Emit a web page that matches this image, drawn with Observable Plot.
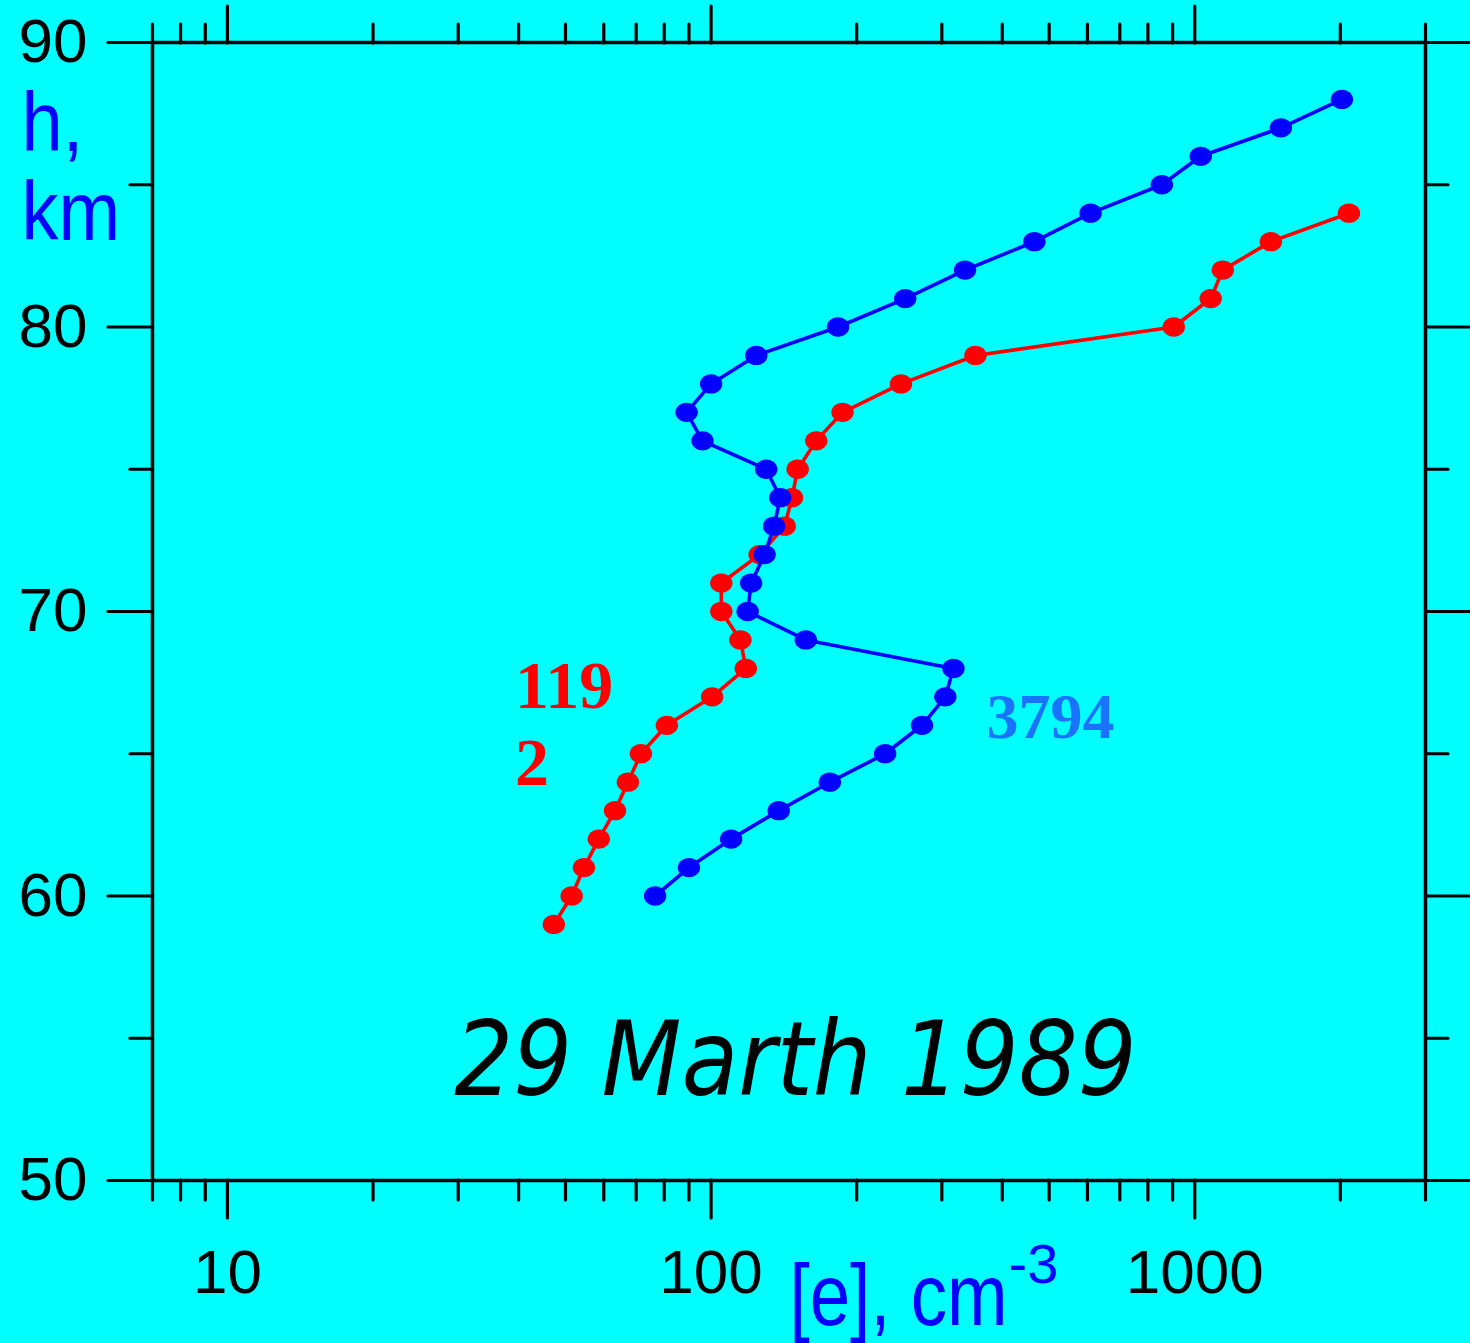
<!DOCTYPE html>
<html><head><meta charset="utf-8">
<script src="https://cdn.jsdelivr.net/npm/d3@7"></script>
<script src="https://cdn.jsdelivr.net/npm/@observablehq/plot@0.6"></script>
<style>
html,body{margin:0;padding:0;background:#00ffff;}
#chart svg{display:block;
  background:
    linear-gradient(to bottom, #ffffff 0, #ffffff 4px, #c8d8ff 4px, #c8d8ff 5px, transparent 5px),
    linear-gradient(to left, #8a8aff 0, #8a8aff 3px, #00ffff 3px);}
</style></head><body><div id="chart"></div>
<script>
// Series 1192 (red)
const heightsRed = [59,60,61,62,63,64,65,66,67,68,69,70,71,72,73,74,75,76,77,78,79,80,81,82,83,84];
const densityRed = [47.3,51.5,54.6,58.6,63.3,67.3,71.6,81,100.5,118,115,105,105,126,142,147,151,165,187,247,352,905,1079,1143,1437,2084];
// Series 3794 (blue)
const heightsBlue = [60,61,62,63,64,65,66,67,68,69,70,71,72,73,74,75,76,77,78,79,80,81,82,83,84,85,86,87,88];
const densityBlue = [76.6,90,110,138,176,229,273,305,317,157,119,121,129,135,139,130,96,89,100,124,183,252,335,466,609,855,1029,1507,2015];

const majorX = [10,100,1000];
const minorX = [7,8,9,20,30,40,50,60,70,80,90,200,300,400,500,600,700,800,900,2000,3000];
const majorY = [50,60,70,80,90];
const minorY = [55,65,75,85];

const seriesLabels = [
  {n: 39.3, h: 66.6, text: "119", color: "#ff0000", size: 68},
  {n: 39.3, h: 63.9, text: "2", color: "#ff0000", size: 68},
  {n: 371, h: 65.55, text: "3794", color: "#1a73ff", size: 64}
];

const red = heightsRed.map((h, i) => ({h, n: densityRed[i]}));
const blue = heightsBlue.map((h, i) => ({h, n: densityBlue[i]}));

const ellipse = {
  draw(ctx, size) {
    const r = Math.sqrt(size / Math.PI);
    const rx = r * 1.08, ry = r * 0.93, k = 0.5523;
    ctx.moveTo(rx, 0);
    ctx.bezierCurveTo(rx, ry * k, rx * k, ry, 0, ry);
    ctx.bezierCurveTo(-rx * k, ry, -rx, ry * k, -rx, 0);
    ctx.bezierCurveTo(-rx, -ry * k, -rx * k, -ry, 0, -ry);
    ctx.bezierCurveTo(rx * k, -ry, rx, -ry * k, rx, 0);
    ctx.closePath();
  }
};

const ax = {color: "black", strokeWidth: 3.2, strokeLinecap: "round", label: null};

const chart = Plot.plot({
  width: 1470,
  height: 1343,
  marginTop: 42,
  marginRight: 45,
  marginBottom: 163,
  marginLeft: 152,
  style: {background: "transparent", color: "black", fontFamily: "'Liberation Sans', Arial, sans-serif", overflow: "visible"},
  x: {type: "log", domain: [7, 3000]},
  y: {domain: [50, 90]},
  marks: [
    // axes
    Plot.axisX(majorX, {...ax, anchor: "bottom", tickSize: 38, tickPadding: 30, fontSize: 62, tickFormat: d => String(d)}),
    Plot.axisX(minorX, {...ax, anchor: "bottom", tickSize: 20, fill: "none"}),
    Plot.axisX(majorX, {...ax, anchor: "top", tickSize: 37, fill: "none"}),
    Plot.axisX(minorX, {...ax, anchor: "top", tickSize: 19, fill: "none"}),
    Plot.axisY(majorY, {...ax, anchor: "left", tickSize: 44, tickPadding: 21, fontSize: 62, tickFormat: d => String(d)}),
    Plot.axisY(minorY, {...ax, anchor: "left", tickSize: 22, fill: "none"}),
    Plot.axisY(majorY, {...ax, anchor: "right", tickSize: 43, fill: "none"}),
    Plot.axisY(minorY, {...ax, anchor: "right", tickSize: 22, fill: "none"}),
    Plot.frame({stroke: "black", strokeWidth: 3.5}),
    // data
    Plot.line(red, {x: "n", y: "h", stroke: "#ff0000", strokeWidth: 3.6}),
    Plot.dot(red, {x: "n", y: "h", fill: "#ff0000", r: 10.4, symbol: ellipse}),
    Plot.line(blue, {x: "n", y: "h", stroke: "#0000ff", strokeWidth: 3.6}),
    Plot.dot(blue, {x: "n", y: "h", fill: "#0000ff", r: 10.4, symbol: ellipse}),
    // series labels
    Plot.text(seriesLabels, {x: "n", y: "h", text: "text", fill: "color", fontSize: d => d.size, textAnchor: "start", lineAnchor: "bottom",
      fontFamily: "'Liberation Serif', 'Times New Roman', serif", fontWeight: "bold"}),
    // axis titles
    Plot.text(["h,"], {frameAnchor: "top-left", dx: -131, dy: 108, textAnchor: "start", lineAnchor: "bottom", fill: "#0000ff", fontSize: 74}),
    Plot.text(["km"], {frameAnchor: "top-left", dx: -131, dy: 197, textAnchor: "start", lineAnchor: "bottom", fill: "#0000ff", fontSize: 74}),
    Plot.text(["[e], cm"], {frameAnchor: "top-left", dx: 637, dy: 1282, textAnchor: "start", lineAnchor: "bottom", fill: "#0000ff", fontSize: 72.7}),
    Plot.text(["-3"], {frameAnchor: "top-left", dx: 856, dy: 1240, textAnchor: "start", lineAnchor: "bottom", fill: "#0000ff", fontSize: 56}),
    // date
    Plot.text(["29 Marth 1989"], {frameAnchor: "top-left", dx: 643, dy: 1052, textAnchor: "middle", lineAnchor: "bottom", fill: "black", fontSize: 103,
      fontStyle: "italic", fontFamily: "'DejaVu Sans Condensed', 'DejaVu Sans', sans-serif", fontStretch: "condensed"})
  ]
});
// the original titles use a tall, narrow face: stretch these texts vertically about their baseline
const stretchY = (t, k) => d3.select(chart).selectAll("text")
  .filter(function () { return this.textContent === t; })
  .each(function () {
    const el = d3.select(this);
    const bx = +el.attr("x") || 0, by = +el.attr("y") || 0;
    const prior = el.attr("transform") || "";
    el.attr("transform", `${prior} translate(${bx},${by}) scale(1,${k}) translate(${-bx},${-by})`);
  });
stretchY("[e], cm", 1.2);
stretchY("h,", 1.12);
stretchY("km", 1.12);
document.getElementById("chart").append(chart);
</script>
</body></html>
